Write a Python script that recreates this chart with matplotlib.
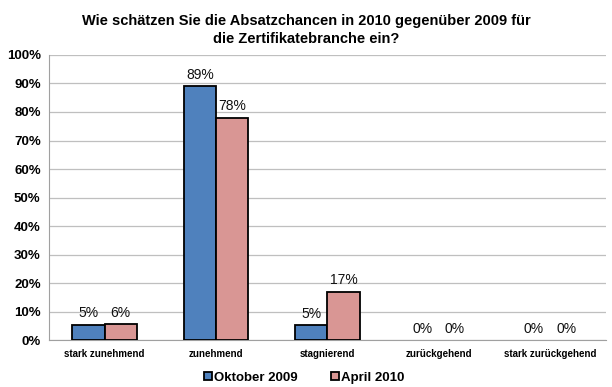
import numpy as np
import matplotlib.pyplot as plt

plt.rcParams['font.family'] = ['Liberation Sans', 'DejaVu Sans']

categories = ['stark zunehmend', 'zunehmend', 'stagnierend', 'zurückgehend', 'stark zurückgehend']
oktober_2009 = [5.4, 89, 5.3, 0, 0]
april_2010 = [5.7, 78, 17, 0, 0]
series_names = ['Oktober 2009', 'April 2010']
colors = ['#4F81BD', '#D99694']

fig = plt.figure(figsize=(6.12, 3.87), dpi=100)
ax = fig.add_axes([0.080, 0.121, 0.910, 0.737])

x = np.arange(len(categories))
w = 0.29
for i, (vals, name, c) in enumerate(zip([oktober_2009, april_2010], series_names, colors)):
    pos = x + (i - 0.5) * w
    lw = [1.3 if v > 0 else 0 for v in vals]
    ax.bar(pos, vals, w, color=c, edgecolor='black', linewidth=lw, label=name, zorder=3)
    for p, v in zip(pos, vals):
        ax.text(p, v + 1.5, f'{v:.0f}%', ha='center', va='bottom', fontsize=10,
                color='#111111')

ax.set_xlim(-0.5, len(categories) - 0.5)
ax.set_ylim(0, 100)
ax.set_yticks(np.arange(0, 101, 10))
ax.set_yticklabels([f'{t}%' for t in range(0, 101, 10)], fontsize=9.5, fontweight='bold')
ax.set_xticks(x)
ax.set_xticklabels(categories, fontsize=7, fontweight='bold')
ax.tick_params(axis='both', length=0, pad=6)
ax.grid(axis='y', color='#BFBFBF', linewidth=0.9, zorder=0)
for s in ['top', 'right']:
    ax.spines[s].set_visible(False)
ax.spines['left'].set_color('#A0A0A0')
ax.spines['bottom'].set_color('#A0A0A0')

fig.suptitle('Wie schätzen Sie die Absatzchancen in 2010 gegenüber 2009 für\ndie Zertifikatebranche ein?',
             fontsize=10.5, fontweight='bold', y=0.965, x=0.5, linespacing=1.45)

fig.legend(loc='lower center', bbox_to_anchor=(0.497, -0.022), ncol=2, frameon=False,
           prop={'size': 9.5, 'weight': 'bold'}, handlelength=0.6, handleheight=0.6,
           handletextpad=0.15, columnspacing=2.6)

fig.savefig('out.png', dpi=100)
